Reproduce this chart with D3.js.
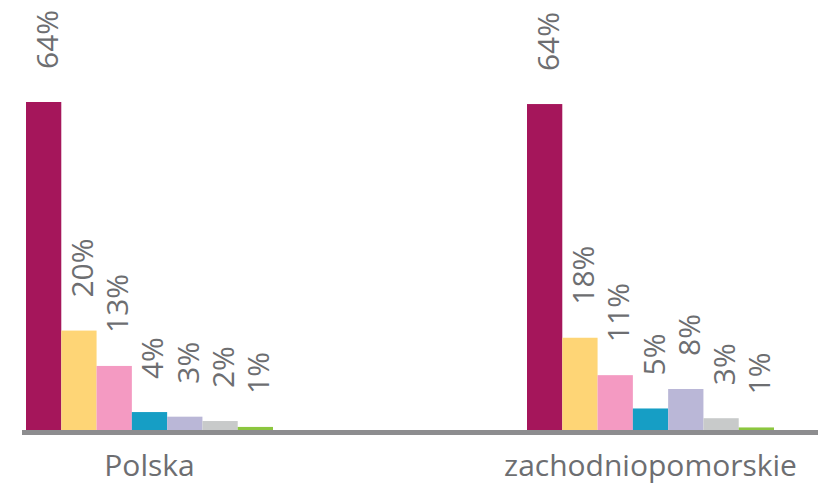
<!DOCTYPE html>
<html>
<head>
<meta charset="utf-8">
<script src="https://cdn.jsdelivr.net/npm/d3@7"></script>
<style>
  body { margin: 0; background: #fff; }
  text { font-family: "Open Sans", sans-serif; fill: #6d6e71; }
</style>
</head>
<body>
<div id="chart"></div>
<script>
// regions and the seven answer shares for each of them
const regions = ['Polska', 'zachodniopomorskie'];
const polskaValues = [64, 19.4, 12.5, 3.5, 2.6, 1.75, 0.6];
const zachValues = [63.6, 18.0, 10.7, 4.2, 8.0, 2.3, 0.5];
const polskaLabels = ['64%', '20%', '13%', '4%', '3%', '2%', '1%'];
const zachLabels = ['64%', '18%', '11%', '5%', '8%', '3%', '1%'];
const colors = ['#a5165b', '#fed576', '#f49ac2', '#169ec5', '#bab7d7', '#c8caca', '#8cc63f'];

const data = [
	{ region: regions[0], values: polskaValues, labels: polskaLabels },
	{ region: regions[1], values: zachValues, labels: zachLabels }
];

const dimensions = {
	width: 822,
	height: 485,
	baseline: 430
};

const svg = d3.select('#chart')
	.append('svg')
		.attr('width', dimensions.width)
		.attr('height', dimensions.height);

// x scales - one for regions, one for bars inside a region
const x0 = d3.scaleBand()
	.domain(regions)
	.range([26, 774])
	.paddingInner(0.507)
	.paddingOuter(0);

const x1 = d3.scaleBand()
	.domain(d3.range(colors.length))
	.range([0, x0.bandwidth()]);

// y scale
const yScale = d3.scaleLinear()
	.domain([0, 64])
	.range([dimensions.baseline, 102]);

const groups = svg.selectAll('.group')
	.data(data)
	.join('g')
		.attr('class', 'group')
		.attr('transform', d => `translate(${x0(d.region)},0)`);

groups.selectAll('rect')
	.data(d => d.values)
	.join('rect')
		.attr('x', (d, i) => x1(i))
		.attr('y', d => yScale(d))
		.attr('width', x1.bandwidth())
		.attr('height', d => yScale(0) - yScale(d))
		.attr('fill', (d, i) => colors[i]);

// value labels, rotated, reading upwards
groups.selectAll('.value')
	.data(d => d.values.map((v, i) => ({ v, label: d.labels[i] })))
	.join('text')
		.attr('class', 'value')
		.attr('transform', (d, i) => `translate(${x1(i) + x1.bandwidth() / 2 + 14},${yScale(d.v) - 33}) rotate(-90)`)
		.style('font-size', '30px')
		.text(d => d.label);

// base line
svg.append('line')
	.attr('x1', 22)
	.attr('x2', 818)
	.attr('y1', dimensions.baseline + 2.5)
	.attr('y2', dimensions.baseline + 2.5)
	.attr('stroke', '#8d8d8f')
	.attr('stroke-width', 5);

// region labels
const xAxis = svg.append('g')
	.attr('transform', `translate(0,${dimensions.baseline + 5})`)
	.call(d3.axisBottom(x0).tickSize(0).tickPadding(0));

xAxis.select('.domain').remove();
xAxis.selectAll('text')
	.attr('dy', null)
	.attr('y', 41)
	.style('font-family', '"Open Sans", sans-serif')
	.style('font-size', '30px')
	.attr('fill', '#6d6e71');
</script>
</body>
</html>
